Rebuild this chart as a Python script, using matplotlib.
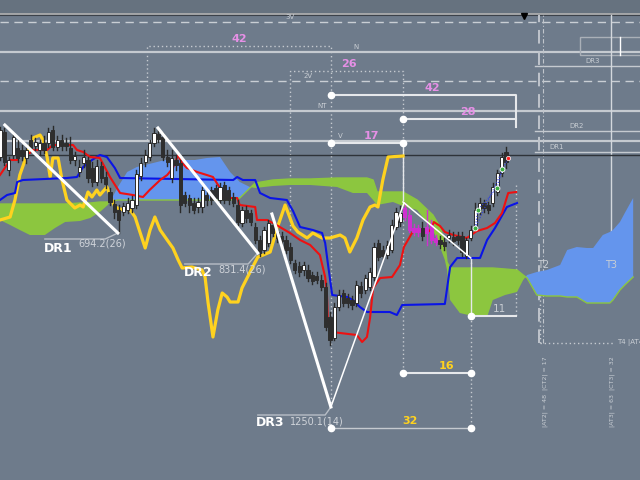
import matplotlib
matplotlib.use('Agg')
import matplotlib.pyplot as plt
from matplotlib.patches import Rectangle

BAR_PX = 4.4
BG = '#6e7b8b'

# ---------------- candles (bar index = position in list) ----------------
opens = [323,348,310,325,332,330,322,340,334,330,
         337,337,350,333,340,337,332,320,308,317,
         320,312,298,314,303,288,276,270,268,270,
         272,275,304,318,323,337,346,343,323,302,
         320,317,285,282,277,273,273,285,290,292,
         280,295,290,283,275,257,270,267,253,240,
         230,237,255,248,244,240,233,217,214,210,
         210,205,204,200,193,163,142,173,187,182,
         180,177,194,190,193,203,237,230,225,230,
         253,258,272,265,252,252,252,253,255,242,
         240,238,242,243,244,244,224,242,253,270,
         277,275,277,288,307,328]
closes = [350,318,320,343,322,324,330,332,338,337,
          330,348,333,340,334,334,320,324,313,323,
          302,298,314,302,296,278,268,260,274,277,
          280,306,317,325,337,347,341,323,318,322,
          315,275,277,275,270,278,290,280,280,282,
          293,280,280,277,258,270,262,258,240,227,
          250,257,247,242,239,230,220,210,208,215,
          202,199,200,193,153,140,173,185,177,177,
          175,195,187,202,208,233,223,224,235,255,
          268,267,263,250,248,248,244,247,240,238,
          236,234,245,239,240,228,240,250,270,277,
          272,270,293,307,323,318]
highs = [353,352,323,347,340,335,333,345,342,340,
         344,352,354,344,345,342,343,328,320,330,
         323,318,320,318,308,292,280,275,277,282,
         284,310,322,330,340,352,352,347,330,330,
         325,320,288,285,282,282,293,290,293,295,
         297,298,293,287,280,273,274,270,257,244,
         253,260,260,252,248,244,237,220,218,218,
         215,208,208,205,197,168,177,190,190,186,
         184,199,198,205,212,237,240,234,239,260,
         272,274,277,270,256,255,258,270,260,245,
         244,242,250,248,248,248,242,254,277,282,
         280,278,297,310,327,333]
lows = [320,315,305,322,318,320,317,328,330,325,
        327,333,330,330,330,330,317,315,304,313,
        298,294,295,298,292,275,262,247,265,267,
        268,272,300,314,320,334,338,320,314,298,
        310,268,274,268,267,268,268,275,276,278,
        277,277,276,274,255,254,258,255,237,224,
        227,234,244,238,235,227,217,207,204,205,
        199,196,197,190,150,135,140,170,174,173,
        171,174,183,187,190,200,220,221,222,228,
        251,254,260,248,245,244,240,235,237,235,
        232,230,238,235,236,224,222,240,251,266,
        268,267,274,285,304,312]

# ---------------- Tenkan (red) ----------------
tenkan_x = [0,1.1,2.3,3.9,4.5,6.8,7.5,10.7,12,16.6,17.5,18.9,20.5,22.7,25,27.3,30.2,32.5,34,36.4,
            38,39.3,40.5,41.4,42.5,44.8,47,48.4,50,50.7,53.9,54.5,58,58.4,60.7,62,63.6,65.9,68.2,70.5,
            72.7,73.9,74.3,74.5,75.5,77.3,81.1,82.3,83.4,84.1,84.8,86.4,89.1,90.9,91.8,93.9,97.7,98.6,
            100,101.1,103,106.1,108.4,110.7,112.5,114.1,115.5,117.3]
tenkan_y = [305,312,320,320,327,327,330,330,335,335,330,328,323,322,303,287,285,283,290,300,
            305,312,325,317,312,308,305,303,292,282,282,275,273,260,260,257,253,247,240,235,
            225,203,187,160,148,147,145,138,143,162,192,202,203,215,233,249,249,258,
            254,248,245,242,249,252,257,267,287,288]

# ---------------- Kijun (blue) ----------------
kijun_x = [0,1.6,3.4,3.9,5.2,15.2,17.5,18.9,20.9,22.7,24.3,26.1,27.3,53,53.9,55.2,58,59.1,61.4,65.2,
           66.6,68.2,71.1,73.2,73.9,74.5,75.5,78.9,80.2,81.8,83.4,88.6,90.2,91.4,101.1,102.3,103.9,
           109.1,110.7,112.5,115.2,117.5]
kijun_y = [280,285,287,298,300,302,303,313,320,325,323,312,302,300,303,300,300,287,282,280,
           269,253,250,247,237,217,185,183,180,173,168,168,165,175,176,213,222,
           222,240,252,273,277]

# ---------------- Chikou (yellow) ----------------
chikou_x = [0,2.3,3.4,4.5,5.7,7.5,9.1,9.8,10.7,11.4,12,13.2,14.1,15.2,17,18.2,18.9,20,20.9,22,22.7,
            24.3,25,26.1,28,29.1,30.7,31.8,33,34.1,35.2,36.4,38,39.3,40.5,41.4,43.6,45.9,46.6,47.3,
            48.4,49.5,50.5,51.6,52.3,54.1,55,57.3,58.6,59.8,61.4,63,64.8,66.6,67.7,69.8,71.1,73.2,
            75,77.3,78.4,79.5,81.1,82.5,84.1,85.2,85.9,87,88.2,91.6]
chikou_y = [260,263,280,305,320,342,345,340,323,303,322,322,300,280,272,275,273,288,283,290,285,
            293,285,273,270,273,263,248,232,250,263,250,240,232,220,212,213,210,203,177,
            143,170,187,183,178,178,192,212,223,225,228,252,275,254,248,242,247,242,
            242,245,242,228,242,260,273,275,273,300,323,324]

# ---------------- Cloud (Senkou spans) ----------------
cloud_x = [0,2.3,4.5,6.8,10.2,12.5,14.8,18.2,20.5,22.7,24.5,25.7,26.8,28.9,31.1,34.8,37.5,44.3,47,50,
           52.3,54.5,56.8,58,62,65.9,70.5,76.6,80.2,83.4,84.8,85.7,89.3,91.6,94.8,98.4,100,101.1,101.6,
           102.3,104.5,108.4,110.7,112,114.8,117.5,118.9,119.8,122,124.3,127.3,128.9,131.1,133.4,134.8,
           137,138.6,139.3,140.9,142,143.9]
span_a = [260,255,250,245,245,252,258,259,262,268,275,284,293,308,313,317,320,320,322,323,
          308,298,293,292,294,295,295,293,287,287,280,275,278,274,270,250,233,220,210,
          180,167,163,163,180,185,188,200,205,208,210,215,230,233,232,232,
          245,248,250,258,267,282]
span_b = [276,276,276,276,276,276,276,277,277,278,278,279,280,280,280,280,280,280,280,280,
          280,282,292,297,300,301,301,302,302,302,300,288,288,288,280,265,253,237,218,
          212,212,212,212,212,211,210,205,202,185,184,184,183,183,177,177,
          177,177,180,190,195,203]

# ---------------- levels & measurements ----------------
levels = [458, 428, 399, 369, 339]
level_names = ['3V', 'N', '2V', 'NT', 'V']
level_styles = ['dashed', 'solid', 'dashed', 'solid', 'solid']
last_price = 325
dr_levels = [328, 349, 414]
dr_names = ['DR1', 'DR2', 'DR3']
zig_x = [1.1, 26.8, 35.9, 58.6, 61.8, 75.2, 91.8, 107.0]
zig_y = [355, 247, 352, 227, 266, 73, 277, 222]
dr_text = ['694.2(26)', '831.4(26)', '1250.1(14)']

fig = plt.figure(figsize=(6.4, 4.8), dpi=100)
fig.patch.set_facecolor(BG)
ax = fig.add_axes([0, 0, 1, 1])
ax.set_xlim(0, 640 / BAR_PX)
ax.set_ylim(0, 480)
ax.axis('off')

LG = '#c9ced4'
PINK = '#e690e6'
YEL = '#ffd21f'

# top strip
ax.axhspan(467, 480, color='#66727f', zorder=0)
ax.axhline(466.5, color='#b0b0b0', lw=1.2, zorder=1)
ax.axhline(465.3, color='#3c424a', lw=0.8, zorder=1)

# cloud
ax.fill_between(cloud_x, span_a, span_b, where=[a <= b for a, b in zip(span_a, span_b)],
                interpolate=True, color='#8cc63f', lw=0, zorder=2)
ax.fill_between(cloud_x, span_a, span_b, where=[a >= b for a, b in zip(span_a, span_b)],
                interpolate=True, color='#6495ed', lw=0, zorder=2)
ax.plot(cloud_x, span_b, color='#8cc63f', lw=1, zorder=2)

# horizontal levels
for lv, nm, st in zip(levels, level_names, level_styles):
    if st == 'dashed':
        ax.axhline(lv, color=LG, lw=1, ls=(0, (6, 4)), zorder=1)
    else:
        ax.axhline(lv, color='#c5cad0', lw=1.6, zorder=1)
lbl_x = [66, 81, 70, 73.2, 77.3]
for lv, nm, lx in zip(levels, level_names, lbl_x):
    ax.text(lx, lv + 2, nm, fontsize=5, color=LG, ha='center', va='bottom', zorder=3)
ax.axhline(last_price, color='#2e3339', lw=1, zorder=3)

# right side DR lines
for lv, nm, lx in zip(dr_levels, dr_names, [126.6, 131.1, 134.8]):
    ax.plot([121.6, 145.5], [lv, lv], color='#c5cad0', lw=1, zorder=1)
    ax.text(lx, lv + 2, nm, fontsize=5, color=LG, ha='center', va='bottom', zorder=3)
ax.add_patch(Rectangle((131.8, 425), 20, 18, fill=False, ec='#aab0b8', lw=1, zorder=1))
ax.plot([140.9, 140.9], [425, 443], color='white', lw=1, zorder=2)

# vertical markers right
ax.plot([122.5, 122.5], [137, 465], color='#c0c5cc', lw=1.4, ls=(0, (7, 4)), zorder=1)
ax.plot([123.4, 123.4], [137, 465], color='#c0c5cc', lw=0.8, ls=(0, (4, 2, 1, 2)), zorder=1)
ax.plot([138.9, 138.9], [222, 465], color='#d4d8dd', lw=1, zorder=1)
ax.plot([122.7, 122.7], [137, 200], color='#c5cad0', lw=1, ls=(0, (1, 2)), zorder=1)
ax.plot([122.7, 139.8], [137, 137], color='#c5cad0', lw=1, ls=(0, (1, 2)), zorder=1)
ax.text(140.2, 137, 'T4 |AT4', fontsize=5, color=LG, ha='left', va='center')
ax.text(123.4, 215, 'T2', fontsize=7, color=LG, ha='center', va='center', zorder=3)
ax.text(138.9, 215, 'T3', fontsize=7, color=LG, ha='center', va='center', zorder=3)
ax.text(123.9, 88, '|AT2| = 48  |CT2| = 17', fontsize=4.5, color=LG, rotation=90, ha='center', va='center')
ax.text(139.1, 88, '|AT3| = 63  |CT3| = 32', fontsize=4.5, color=LG, rotation=90, ha='center', va='center')
ax.plot([119.1], [464], marker='v', color='black', ms=4, zorder=4)

# dotted brackets
dot = dict(color='#c5cad0', lw=1, ls=(0, (1, 2)), zorder=1)
ax.plot([33.4, 33.4, 75.2, 75.2], [340, 434, 434, 73], **dot)
ax.plot([65.9, 65.9, 91.6, 91.6], [250, 409, 409, 107], **dot)
ax.plot([107, 107], [222, 52], **dot)
ax.plot([117.3, 117.3], [295, 164], **dot)
ax.text(54.5, 436, '42', fontsize=8, color=PINK, fontweight='bold', ha='center', va='bottom')
ax.text(79.3, 411, '26', fontsize=8, color=PINK, fontweight='bold', ha='center', va='bottom')

# solid measurement lines
ml = dict(color='#e6e8eb', lw=1.5, zorder=3)
ax.plot([75.2, 117.3, 117.3], [385, 385, 353], **ml)
ax.plot([91.6, 117.3], [361, 361], **ml)
ax.plot([75.2, 91.6], [337, 337], **ml)
ax.plot([91.6, 91.6], [337, 280], color='#e6e8eb', lw=1, zorder=3)
ax.plot([107, 107], [222, 164], color='#e6e8eb', lw=1, zorder=3)
ax.plot([91.6, 107], [107, 107], **ml)
ax.plot([75.2, 107], [52, 52], color='#c5cad0', lw=1, zorder=3)
ax.plot([107, 117.3], [164, 164], **ml)
ax.plot([75.2, 91.6, 75.2, 91.6, 91.6, 107, 75.2, 107, 107],
        [385, 361, 337, 337, 107, 107, 52, 52, 164],
        ls='none', marker='o', ms=4.5, mfc='white', mec='white', zorder=5)
ax.text(98.2, 387, '42', fontsize=8, color=PINK, fontweight='bold', ha='center', va='bottom', zorder=5)
ax.text(106.4, 363, '28', fontsize=8, color=PINK, fontweight='bold', ha='center', va='bottom', zorder=5)
ax.text(84.5, 339, '17', fontsize=8, color=PINK, fontweight='bold', ha='center', va='bottom', zorder=5)
ax.text(101.4, 109, '16', fontsize=8, color=YEL, fontweight='bold', ha='center', va='bottom', zorder=5)
ax.text(93.2, 54, '32', fontsize=8, color=YEL, fontweight='bold', ha='center', va='bottom', zorder=5)
ax.text(113.6, 166, '11', fontsize=7.5, color=LG, ha='center', va='bottom', zorder=5)

# lines
ax.plot(chikou_x, chikou_y, color=YEL, lw=2.3, zorder=6)
ax.plot(kijun_x, kijun_y, color='#0a14e6', lw=1.5, zorder=6)
ax.plot(tenkan_x, tenkan_y, color='#ee1111', lw=1.5, zorder=6)

# candles
cw = 0.75
for i, (o, h, l, c) in enumerate(zip(opens, highs, lows, closes)):
    bull = c > o
    if 92 <= i <= 99 and not bull and i != 96:
        fc, ec = '#d030d0', '#d030d0'
    elif bull:
        fc, ec = 'white', '#2a2a2a'
    else:
        fc, ec = '#2e2e2e', '#2e2e2e'
    ax.plot([i, i], [l, h], color='#2a2a2a' if ec != '#d030d0' else '#d030d0', lw=1, zorder=7)
    ax.add_patch(Rectangle((i - cw / 2, min(o, c)), cw, max(abs(c - o), 0.8),
                           fc=fc, ec=ec, lw=0.7, zorder=8))

# signal dots
ax.plot([108.0, 108.6, 113.0, 114.1], [252, 270, 292, 311], color='#3040e0', lw=0.8, ls=(0, (1, 1.5)), zorder=8)
ax.plot([108.0, 115.5], [252, 322], color='#3040e0', lw=0.8, ls=(0, (1, 1.5)), zorder=8)
ax.plot([108.0, 108.6, 113.0, 114.1], [252, 270, 292, 311], ls='none', marker='o', ms=3.5,
        mfc='#3cb043', mec='white', mew=0.6, zorder=9)
ax.plot([115.5], [322], ls='none', marker='o', ms=3, mfc='#ff2020', mec='white', mew=0.5, zorder=9)

# zigzag
ax.plot(zig_x[0:2], zig_y[0:2], color='white', lw=2.2, zorder=10)
ax.plot(zig_x[2:4], zig_y[2:4], color='white', lw=2.2, zorder=10)
ax.plot(zig_x[4:6], zig_y[4:6], color='white', lw=2.2, zorder=10)
ax.plot(zig_x[5:7], zig_y[5:7], color='white', lw=1.1, zorder=10)
ax.plot([91.6, 107.0], [278, 222], color='white', lw=1.1, zorder=10)

# DR labels
lead = dict(color='#b8bec6', lw=1, zorder=9)
ax.plot([10.2, 23.9, 26.8], [241, 241, 247], **lead)
ax.plot([42.0, 56.4, 58.6], [216, 216, 227], **lead)
ax.plot([58.6, 73.9, 75.2], [65, 65, 73], **lead)
ax.text(13.2, 232, 'DR1', fontsize=9, color='white', fontweight='bold', ha='center', va='center', zorder=11)
ax.text(45.0, 208, 'DR2', fontsize=9, color='white', fontweight='bold', ha='center', va='center', zorder=11)
ax.text(61.4, 57, 'DR3', fontsize=9, color='white', fontweight='bold', ha='center', va='center', zorder=11)
ax.text(23.2, 236, dr_text[0], fontsize=7, color='#d0d4da', ha='center', va='center', zorder=11)
ax.text(55.0, 211, dr_text[1], fontsize=7, color='#d0d4da', ha='center', va='center', zorder=11)
ax.text(72.0, 59, dr_text[2], fontsize=7, color='#d0d4da', ha='center', va='center', zorder=11)

fig.savefig('out.png', dpi=100, facecolor=fig.get_facecolor())
